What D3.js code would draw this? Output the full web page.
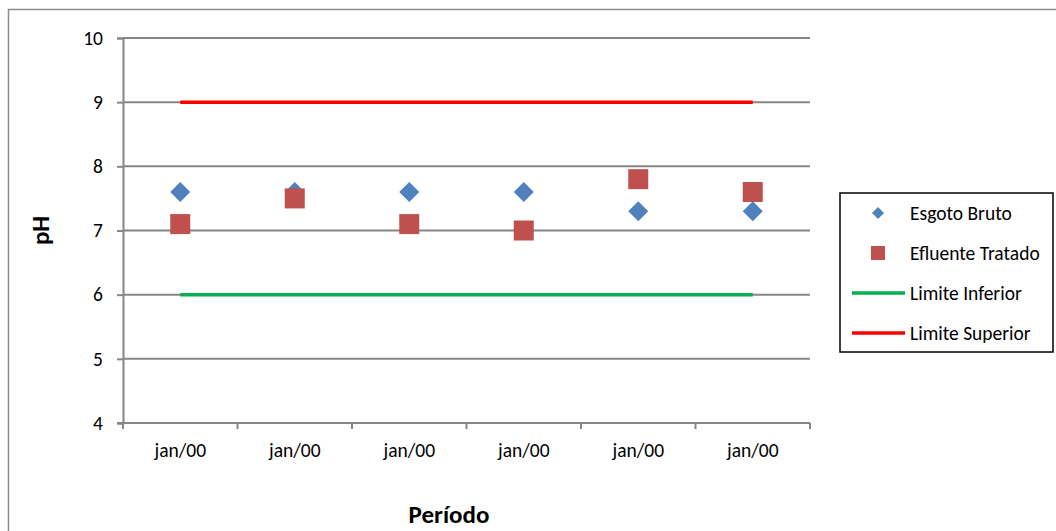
<!DOCTYPE html>
<html>
<head>
<meta charset="utf-8">
<script src="https://cdn.jsdelivr.net/npm/d3@7"></script>
<style>
  html, body { margin: 0; padding: 0; background: #fff; }
  svg { display: block; font-family: Carlito, Lato, "Open Sans", sans-serif; }
</style>
</head>
<body>
<svg id="chart" width="1056" height="531"></svg>
<script>
// pH readings per sampling period
const periods = ["jan/00", "jan/00", "jan/00", "jan/00", "jan/00", "jan/00"];
const esgotoBruto = [7.6, 7.6, 7.6, 7.6, 7.3, 7.3];
const efluenteTratado = [7.1, 7.5, 7.1, 7.0, 7.8, 7.6];
const limiteInferior = [6, 6, 6, 6, 6, 6];
const limiteSuperior = [9, 9, 9, 9, 9, 9];
const yTicks = [4, 5, 6, 7, 8, 9, 10];
const legendItems = ["Esgoto Bruto", "Efluente Tratado", "Limite Inferior", "Limite Superior"];

const svg = d3.select("#chart");
const W = 1056, H = 531;
const plot = { left: 123, right: 810, top: 38, bottom: 423 };
const labelSize = 19.5;
const titleSize = 25;

// outer chart frame
svg.append("rect")
  .attr("x", 8.5).attr("y", 9.5)
  .attr("width", W + 20).attr("height", H + 20)
  .attr("fill", "#fff").attr("stroke", "#8c8c8c").attr("stroke-width", 1.5);

const idx = periods.map((d, i) => i);
const x = d3.scaleBand().domain(idx).range([plot.left, plot.right]);
const xc = i => x(i) + x.bandwidth() / 2;
const y = d3.scaleLinear().domain([4, 10]).range([plot.bottom, plot.top]);

const grey = "#868686";

// horizontal gridlines
svg.append("g").selectAll("line").data(yTicks.filter(t => t > 4)).join("line")
  .attr("x1", plot.left).attr("x2", plot.right)
  .attr("y1", d => y(d)).attr("y2", d => y(d))
  .attr("stroke", grey).attr("stroke-width", 2);

// y axis
const yAxis = svg.append("g")
  .attr("transform", `translate(${plot.left},0)`)
  .call(d3.axisLeft(y).tickValues(yTicks).tickSize(6).tickPadding(14).tickFormat(d3.format("d")));
yAxis.select(".domain").attr("stroke", grey).attr("stroke-width", 2);
yAxis.selectAll(".tick line").attr("stroke", grey).attr("stroke-width", 2);
yAxis.selectAll(".tick text").attr("font-size", labelSize).attr("fill", "#000")
  .style("font-family", "Carlito, Lato, 'Open Sans', sans-serif");

// x axis with ticks between categories
const xEdge = d3.scaleLinear().domain([0, periods.length]).range([plot.left, plot.right]);
const xAxisG = svg.append("g").attr("transform", `translate(0,${plot.bottom})`);
xAxisG.append("line").attr("x1", plot.left - 6).attr("x2", plot.right)
  .attr("stroke", grey).attr("stroke-width", 2);
xAxisG.selectAll("line.tk").data(d3.range(periods.length + 1)).join("line")
  .attr("class", "tk")
  .attr("x1", d => xEdge(d)).attr("x2", d => xEdge(d))
  .attr("y1", 0).attr("y2", 6)
  .attr("stroke", grey).attr("stroke-width", 2);
xAxisG.selectAll("text").data(periods).join("text")
  .attr("x", (d, i) => xc(i)).attr("y", 34)
  .attr("text-anchor", "middle").attr("font-size", labelSize).attr("fill", "#000")
  .text(d => d);

// limit lines
const line = d3.line().x((d, i) => xc(i)).y(d => y(d));
svg.append("path").datum(limiteInferior).attr("d", line)
  .attr("fill", "none").attr("stroke", "#00b050").attr("stroke-width", 3.5);
svg.append("path").datum(limiteSuperior).attr("d", line)
  .attr("fill", "none").attr("stroke", "#ff0000").attr("stroke-width", 3.5);

// markers
const diamond = d3.symbol().type(d3.symbolSquare).size(200);
svg.append("g").selectAll("path").data(esgotoBruto).join("path")
  .attr("d", diamond)
  .attr("transform", (d, i) => `translate(${xc(i)},${y(d)}) rotate(45)`)
  .attr("fill", "#4f81bd");
svg.append("g").selectAll("rect").data(efluenteTratado).join("rect")
  .attr("x", (d, i) => xc(i) - 10).attr("y", d => y(d) - 10)
  .attr("width", 20).attr("height", 20)
  .attr("fill", "#c0504d");

// axis titles
svg.append("text")
  .attr("transform", `translate(49,${(plot.top + plot.bottom) / 2}) rotate(-90)`)
  .attr("text-anchor", "middle").attr("font-size", titleSize).attr("font-weight", "bold")
  .text("pH");
svg.append("text")
  .attr("x", 449).attr("y", 523)
  .attr("text-anchor", "middle").attr("font-size", titleSize).attr("font-weight", "bold")
  .text("Período");

// legend
const lg = svg.append("g");
lg.append("rect").attr("x", 840).attr("y", 193).attr("width", 213).attr("height", 159)
  .attr("fill", "#fff").attr("stroke", "#000").attr("stroke-width", 1.5);
const rowY = i => 213 + i * 40;
lg.append("path").attr("d", d3.symbol().type(d3.symbolSquare).size(72))
  .attr("transform", `translate(878,${rowY(0)}) rotate(45)`).attr("fill", "#4f81bd");
lg.append("rect").attr("x", 871).attr("y", rowY(1) - 7).attr("width", 14).attr("height", 14)
  .attr("fill", "#c0504d");
lg.append("line").attr("x1", 852).attr("x2", 905).attr("y1", rowY(2)).attr("y2", rowY(2))
  .attr("stroke", "#00b050").attr("stroke-width", 3.5);
lg.append("line").attr("x1", 852).attr("x2", 905).attr("y1", rowY(3)).attr("y2", rowY(3))
  .attr("stroke", "#ff0000").attr("stroke-width", 3.5);
lg.selectAll("text").data(legendItems).join("text")
  .attr("x", 910).attr("y", (d, i) => rowY(i)).attr("dy", "0.35em")
  .attr("font-size", labelSize).attr("fill", "#000")
  .text(d => d);
</script>
</body>
</html>
